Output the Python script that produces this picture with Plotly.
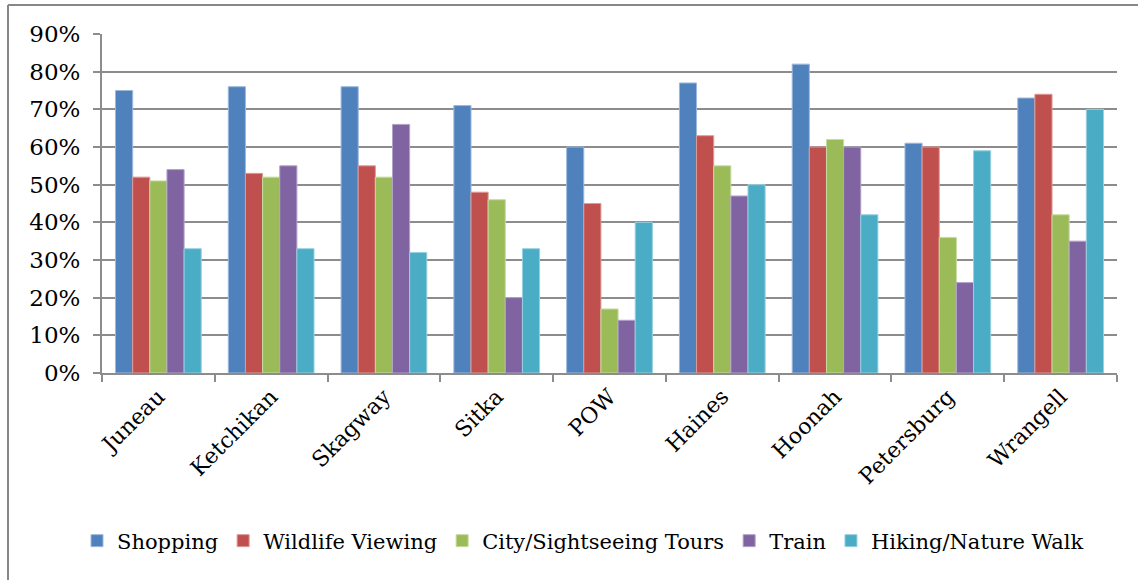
import plotly.graph_objects as go

categories = ["Juneau", "Ketchikan", "Skagway", "Sitka", "POW", "Haines", "Hoonah", "Petersburg", "Wrangell"]
series_names = ["Shopping", "Wildlife Viewing", "City/Sightseeing Tours", "Train", "Hiking/Nature Walk"]
shopping = [0.75, 0.76, 0.76, 0.71, 0.60, 0.77, 0.82, 0.61, 0.73]
wildlife = [0.52, 0.53, 0.55, 0.48, 0.45, 0.63, 0.60, 0.60, 0.74]
city_tours = [0.51, 0.52, 0.52, 0.46, 0.17, 0.55, 0.62, 0.36, 0.42]
train = [0.54, 0.55, 0.66, 0.20, 0.14, 0.47, 0.60, 0.24, 0.35]
hiking = [0.33, 0.33, 0.32, 0.33, 0.40, 0.50, 0.42, 0.59, 0.70]

values = [shopping, wildlife, city_tours, train, hiking]
colors = ["#4F81BD", "#C0504D", "#9BBB59", "#8064A2", "#4BACC6"]
edge_colors = ["#9DB8DB", "#DD9A98", "#C6DAA2", "#B3A2C8", "#98D0E0"]

FONT = "DejaVu Serif"

fig = go.Figure()
for name, vals, c, ec in zip(series_names, values, colors, edge_colors):
    fig.add_trace(go.Bar(
        x=categories, y=vals, name=name,
        marker=dict(color=c, line=dict(color=ec, width=1)),
    ))

W, H = 1138, 580
l, r, t, b = 102, 21, 34, 207
pw, ph = W - l - r, H - t - b

def px_to_paper_x(px):
    return (px - l) / pw

def px_to_paper_y(py):
    return (H - b - py) / ph

border = dict(color="#878787", width=2)
fig.update_layout(
    width=W, height=H,
    margin=dict(l=l, r=r, t=t, b=b, pad=0),
    paper_bgcolor="white", plot_bgcolor="white",
    barmode="group", bargap=0.24, bargroupgap=0,
    font=dict(family=FONT, size=22, color="black"),
    showlegend=True,
    legend=dict(
        orientation="h", x=px_to_paper_x(583), xanchor="center",
        y=px_to_paper_y(541), yanchor="middle",
        font=dict(family=FONT, size=21, color="black"),
        itemwidth=30, tracegroupgap=0,
        bgcolor="rgba(0,0,0,0)",
    ),
    shapes=[
        dict(type="line", xref="paper", yref="paper",
             x0=px_to_paper_x(8), x1=px_to_paper_x(1145),
             y0=px_to_paper_y(5), y1=px_to_paper_y(5), line=border, layer="below"),
        dict(type="line", xref="paper", yref="paper",
             x0=px_to_paper_x(8), x1=px_to_paper_x(8),
             y0=px_to_paper_y(5), y1=px_to_paper_y(600), line=border, layer="below"),
    ],
)

fig.update_yaxes(
    range=[0, 0.9], dtick=0.1, tickformat=".0%",
    showgrid=True, gridcolor="#8C8C8C", gridwidth=2,
    showline=True, linecolor="#8C8C8C", linewidth=2,
    ticks="outside", ticklen=7, tickcolor="#8C8C8C", tickwidth=2,
    tickfont=dict(family=FONT, size=23, color="black"),
    zeroline=False, ticklabelstandoff=8,
)
fig.update_xaxes(
    showline=True, linecolor="#8C8C8C", linewidth=2,
    ticks="outside", tickson="boundaries", ticklen=7, tickcolor="#8C8C8C", tickwidth=2,
    tickangle=-45, tickfont=dict(family=FONT, size=22, color="black"),
    showgrid=False,
)

fig.write_html(
    "out.html",
    config={"displayModeBar": False},
    post_script="document.body.style.margin='0px';document.body.style.padding='0px';",
)
